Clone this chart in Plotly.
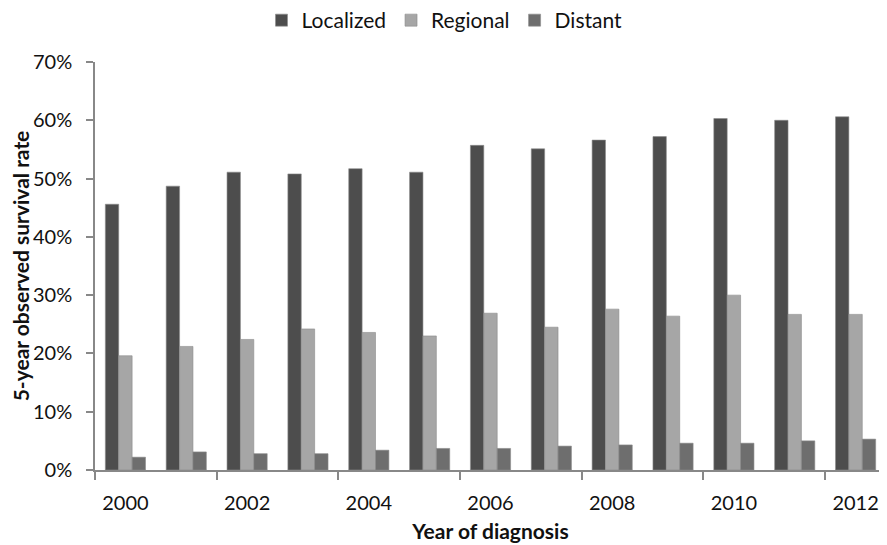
import plotly.graph_objects as go

years = list(range(2000, 2013))
localized = [45.6, 48.7, 51.1, 50.8, 51.7, 51.1, 55.7, 55.1, 56.6, 57.2, 60.3, 60.0, 60.6]
regional = [19.6, 21.2, 22.4, 24.2, 23.6, 23.0, 26.9, 24.5, 27.6, 26.4, 30.0, 26.7, 26.7]
distant = [2.2, 3.1, 2.8, 2.8, 3.4, 3.7, 3.7, 4.1, 4.3, 4.6, 4.6, 5.0, 5.3]
series_names = ["Localized", "Regional", "Distant"]
colors = ["#4d4d4d", "#a6a6a6", "#6e6e6e"]
label_years = [2000, 2002, 2004, 2006, 2008, 2010, 2012]

FONT = "Lato, 'Open Sans', sans-serif"

fig = go.Figure()
for name, vals, c in zip(series_names, [localized, regional, distant], colors):
    fig.add_trace(go.Bar(
        x=years, y=[v / 100 for v in vals], name=name,
        marker=dict(color=c, line=dict(color="#8c8c8c", width=0.6)),
    ))

fig.update_layout(
    width=887, height=545,
    margin=dict(l=87, r=9, t=54, b=83, autoexpand=False),
    paper_bgcolor="white", plot_bgcolor="white",
    barmode="group", bargap=0.34, bargroupgap=0,
    font=dict(family=FONT, size=20, color="#111"),
    legend=dict(orientation="h", x=0.2105, xanchor="left", y=1.152, yanchor="top",
                font=dict(size=21, color="#111"), itemwidth=30, traceorder="normal"),
    xaxis=dict(
        range=[1999.5, 2012.5], tickvals=label_years, ticktext=[str(y) for y in label_years],
        ticks="", showline=True, linecolor="#888", linewidth=1.5, showgrid=False, zeroline=False,
        tickfont=dict(size=20), ticklabelstandoff=14,
        minor=dict(tick0=1999.5, dtick=2, ticks="outside", ticklen=8, tickcolor="#888", tickwidth=1.5, showgrid=False),
        title=dict(text="<b>Year of diagnosis</b>", font=dict(size=21), standoff=12),
    ),
    yaxis=dict(
        range=[0, 0.7], dtick=0.1, tickformat=".0%", ticks="outside", ticklen=7,
        tickcolor="#888", tickwidth=1.5, showline=True, linecolor="#888", linewidth=1.5,
        showgrid=False, zeroline=False, tickfont=dict(size=20), ticklabelstandoff=10,
        title=dict(text="<b>5-year observed survival rate</b>", font=dict(size=21), standoff=4),
    ),
)

fig.write_html("out.html")
